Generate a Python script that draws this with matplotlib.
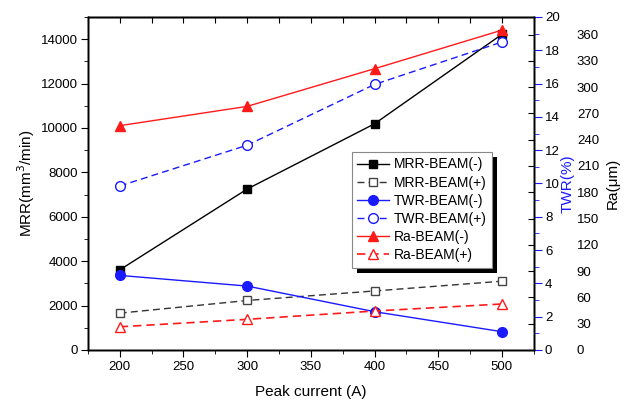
import matplotlib
matplotlib.use("Agg")
import matplotlib.pyplot as plt
from matplotlib.ticker import MultipleLocator
from matplotlib.patches import Rectangle

plt.rcParams['font.family'] = ['Liberation Sans', 'DejaVu Sans']

peak_current = [200, 300, 400, 500]
mrr_minus = [3610, 7250, 10190, 14220]
mrr_plus = [1660, 2230, 2660, 3100]
twr_minus = [4.48, 3.84, 2.30, 1.10]
twr_plus = [9.85, 12.3, 15.95, 18.5]
ra_minus = [256, 278, 321, 365]
ra_plus = [26.5, 35, 44.5, 52.5]

BLUE = '#1a1aff'
RED = '#ff1a1a'
TS = 9.5

fig = plt.figure(figsize=(6.28, 4.0), dpi=100)
ax = fig.add_axes([0.140, 0.125, 0.710, 0.8325])
ax2 = ax.twinx()
ax3 = ax.twinx()

# MRR (left axis)
l1, = ax.plot(peak_current, mrr_minus, '-', color='black', lw=1.0, marker='s',
              ms=6, mfc='black', mec='black', label='MRR-BEAM(-)')
l2, = ax.plot(peak_current, mrr_plus, '--', color='#333333', lw=1.0, marker='s',
              ms=6, mfc='white', mec='#444444', dashes=(5, 3), label='MRR-BEAM(+)')
ax.set_xlim(175, 525)
ax.set_ylim(0, 15000)
ax.xaxis.set_major_locator(MultipleLocator(50))
ax.xaxis.set_minor_locator(MultipleLocator(25))
ax.yaxis.set_major_locator(MultipleLocator(2000))
ax.yaxis.set_minor_locator(MultipleLocator(1000))
ax.tick_params(axis='x', which='both', direction='out', top=False,
               labelsize=TS, pad=3)
ax.tick_params(axis='x', which='major', length=5)
ax.tick_params(axis='x', which='minor', length=3)
ax.tick_params(axis='y', which='major', direction='out', length=5, labelsize=TS, pad=2)
ax.tick_params(axis='y', which='minor', direction='out', length=3)
ax.set_xlabel('Peak current (A)', fontsize=11)
ax.xaxis.set_label_coords(0.5, -0.105)
ax.set_ylabel('MRR(mm$^3$/min)', fontsize=11, va='center')
ax.yaxis.set_label_coords(-0.139, 0.5)

# top axis ticks pointing inward
top = ax.secondary_xaxis('top')
top.xaxis.set_major_locator(MultipleLocator(25))
top.tick_params(axis='x', which='major', direction='in', length=4, labeltop=False)
top.tick_params(axis='x', which='minor', length=0)

# TWR (right axis, blue)
l3, = ax2.plot(peak_current, twr_minus, '-', color=BLUE, lw=1.0, marker='o',
               ms=7, mfc=BLUE, mec=BLUE, label='TWR-BEAM(-)')
l4, = ax2.plot(peak_current, twr_plus, '--', color=BLUE, lw=1.0, marker='o',
               ms=7, mfc='white', mec=BLUE, dashes=(5, 3), label='TWR-BEAM(+)')
ax2.set_ylim(0, 20)
ax2.yaxis.set_major_locator(MultipleLocator(2))
ax2.yaxis.set_minor_locator(MultipleLocator(1))
ax2.tick_params(axis='y', which='major', direction='out', length=6, color=BLUE,
                labelsize=TS, pad=2)
ax2.tick_params(axis='y', which='minor', direction='out', length=3.5, color=BLUE)
ax2.set_ylabel('TWR(%)', fontsize=11, color=BLUE, va='center')
ax2.yaxis.set_label_coords(1.076, 0.5)

# Ra (second right axis, shares spine)
l5, = ax3.plot(peak_current, ra_minus, '-', color=RED, lw=1.0, marker='^',
               ms=7.5, mfc=RED, mec=RED, label='Ra-BEAM(-)')
l6, = ax3.plot(peak_current, ra_plus, '--', color=RED, lw=1.2, marker='^',
               ms=7.5, mfc='white', mec=RED, dashes=(5, 3), label='Ra-BEAM(+)')
ax3.set_ylim(0, 380)
ax3.set_yticks(list(range(0, 361, 30)))
ax3.tick_params(axis='y', which='major', direction='in', length=4, color='black',
                labelsize=TS, pad=31)
ax3.set_ylabel('Ra(\u03bcm)', fontsize=11, va='center')
ax3.yaxis.set_label_coords(1.177, 0.5)

for a in (ax, ax2, ax3):
    for s in a.spines.values():
        s.set_linewidth(1.0)

handles = [l1, l2, l3, l4, l5, l6]
leg = ax3.legend(handles=handles, loc='upper left', bbox_to_anchor=(0.592, 0.595),
                 borderaxespad=0, fontsize=10, frameon=True, fancybox=False,
                 framealpha=1.0, handlelength=2.3, handletextpad=0.3,
                 labelspacing=0.3, borderpad=0.4)
leg.get_frame().set_edgecolor('#888888')
leg.get_frame().set_linewidth(0.8)
leg.set_zorder(10)

fig.canvas.draw()
bb = leg.get_window_extent().transformed(fig.transFigure.inverted())
dx = 5 / 628
dy = 5 / 400
shadow = Rectangle((bb.x0 + dx, bb.y0 - dy), bb.width, bb.height,
                   transform=fig.transFigure, facecolor='black', edgecolor='none',
                   zorder=9, clip_on=False)
ax3.add_artist(shadow)

fig.savefig('out.png', dpi=100)
